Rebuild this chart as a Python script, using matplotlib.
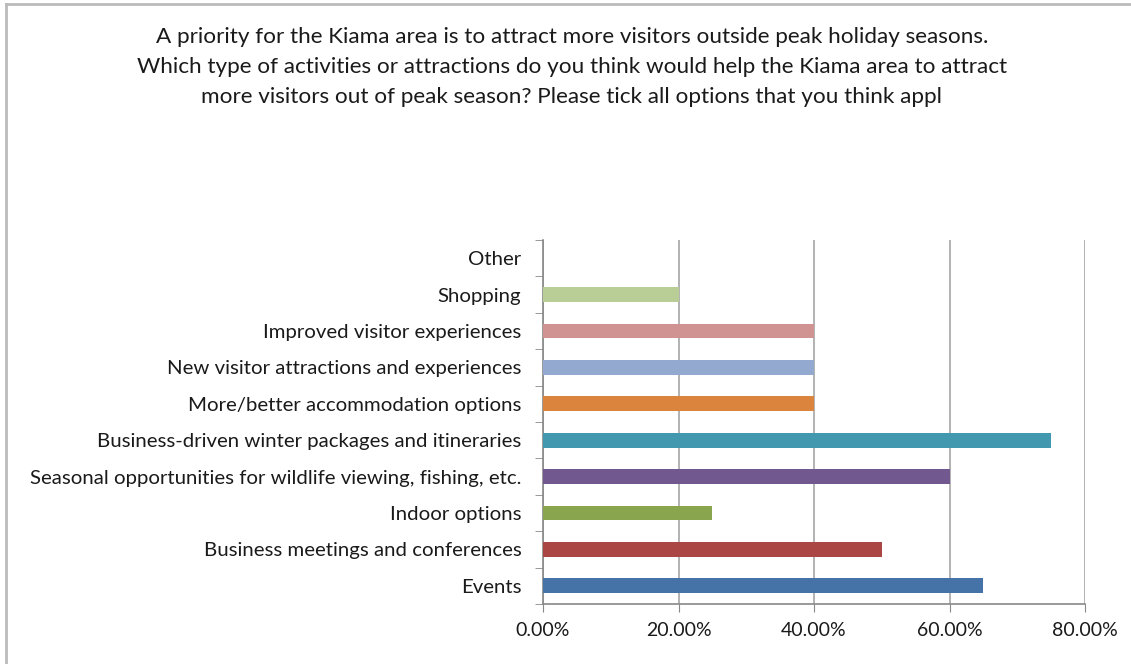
import matplotlib.pyplot as plt
from matplotlib.lines import Line2D
from matplotlib.ticker import FuncFormatter, FixedLocator

categories = ['Events', 'Business meetings and conferences', 'Indoor options',
              'Seasonal opportunities for wildlife viewing, fishing, etc.',
              'Business-driven winter packages and itineraries',
              'More/better accommodation options',
              'New visitor attractions and experiences',
              'Improved visitor experiences', 'Shopping', 'Other']
values = [0.65, 0.50, 0.25, 0.60, 0.75, 0.40, 0.40, 0.40, 0.20, 0.0]
colors = ['#4572A7', '#AA4643', '#89A54E', '#71588F', '#4198AF',
          '#DB843D', '#93A9CF', '#D19392', '#B9CD96', '#A99BBD']

title = ('A priority for the Kiama area is to attract more visitors outside peak holiday seasons.\n'
         'Which type of activities or attractions do you think would help the Kiama area to attract\n'
         'more visitors out of peak season? Please tick all options that you think appl')

plt.rcParams['font.family'] = ['Lato', 'DejaVu Sans']

fig = plt.figure(figsize=(11.31, 6.64), dpi=100)
ax = fig.add_axes([0.4801, 0.0904, 0.4793, 0.5482])

y = range(len(categories))
ax.barh(y, values, height=0.41, color=colors, zorder=3)

ax.set_xlim(0, 0.8)
ax.set_ylim(-0.5, len(categories) - 0.5)
ax.set_xticks([0, 0.2, 0.4, 0.6, 0.8])
ax.xaxis.set_major_formatter(FuncFormatter(lambda v, p: '%.2f%%' % (v * 100)))
ax.set_yticks(list(y))
ax.set_yticklabels(categories)
ax.yaxis.set_minor_locator(FixedLocator([i - 0.5 for i in range(len(categories) + 1)]))
ax.tick_params(axis='y', which='major', length=0, pad=15.5, labelsize=14.7, labelcolor='#1a1a1a')
ax.tick_params(axis='y', which='minor', length=6, color='#888888', direction='out')
ax.tick_params(axis='x', length=6, color='#888888', labelsize=14, labelcolor='#1a1a1a', pad=7)
ax.grid(axis='x', color='#a6a6a6', linewidth=1.2, zorder=0)
for s in ['top', 'right']:
    ax.spines[s].set_visible(False)
for s in ['left', 'bottom']:
    ax.spines[s].set_color('#888888')
    ax.spines[s].set_linewidth(1.2)

fig.text(0.5055, 0.9595, title, ha='center', va='top', fontsize=16.2,
         linespacing=1.63, color='#1a1a1a')

# chart frame
fig.add_artist(Line2D([0.0053, 0.0053], [0.0, 0.994], transform=fig.transFigure,
                      color='#bbbbbb', linewidth=2))
fig.add_artist(Line2D([0.0053, 1.0], [0.994, 0.994], transform=fig.transFigure,
                      color='#bbbbbb', linewidth=2))

fig.savefig('out.png', dpi=100)
